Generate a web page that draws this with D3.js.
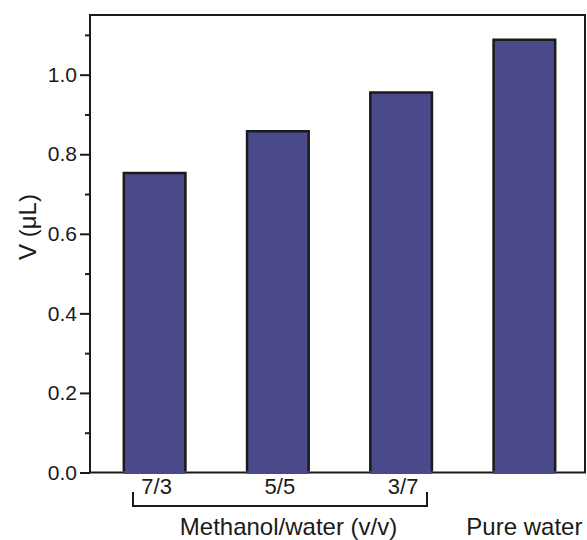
<!DOCTYPE html>
<html>
<head>
<meta charset="utf-8">
<script src="https://cdn.jsdelivr.net/npm/d3@7"></script>
<style>
  body { margin: 0; background: #fff; }
  text { font-family: "Liberation Sans", Arial, sans-serif; fill: #1a1a1a; }
</style>
</head>
<body>
<svg id="chart"></svg>
<script>
// data
var categories = ["7/3", "5/5", "3/7", "Pure water"];
var values = [0.753, 0.858, 0.955, 1.088];
var yTicks = [0.0, 0.2, 0.4, 0.6, 0.8, 1.0];
var yMinorTicks = [0.1, 0.3, 0.5, 0.7, 0.9, 1.1];
var groupLabel = "Methanol/water (v/v)";

var svgWidth = 587, svgHeight = 540;
var plotLeft = 90, plotRight = 585, plotTop = 15, plotBottom = 472.5;

var svg = d3.select("#chart")
  .attr("width", svgWidth)
  .attr("height", svgHeight);

var x = d3.scaleBand()
  .domain(categories)
  .range([93, 586])
  .paddingInner(0.5)
  .paddingOuter(0.25);

var y = d3.scaleLinear()
  .domain([0, 1.15])
  .range([plotBottom, plotTop]);

// frame
svg.append("rect")
  .attr("x", plotLeft).attr("y", plotTop)
  .attr("width", plotRight - plotLeft).attr("height", plotBottom - plotTop)
  .attr("fill", "none")
  .attr("stroke", "#1a1a1a")
  .attr("stroke-width", 2);

// y axis, major + minor ticks
var yAxis = svg.append("g")
  .attr("transform", "translate(" + plotLeft + ",0)")
  .call(d3.axisLeft(y).tickValues(yTicks).tickSize(10).tickPadding(3)
    .tickFormat(d3.format(".1f")));
yAxis.select(".domain").remove();
yAxis.selectAll("line").attr("stroke", "#1a1a1a").attr("stroke-width", 2);
yAxis.selectAll("text")
  .style("font-size", "21px")
  .style("font-family", "'Liberation Sans', Arial, sans-serif")
  .attr("fill", "#1a1a1a");

var minor = svg.append("g")
  .attr("transform", "translate(" + plotLeft + ",0)")
  .call(d3.axisLeft(y).tickValues(yMinorTicks).tickSize(5).tickFormat(""));
minor.select(".domain").remove();
minor.selectAll("line").attr("stroke", "#1a1a1a").attr("stroke-width", 2);

// bars: fill reaches over the axis line, outline only on top and sides
var bars = svg.selectAll(".bar")
  .data(values)
  .enter()
  .append("g")
  .attr("class", "bar");

bars.append("rect")
  .attr("x", function(d, i) { return x(categories[i]); })
  .attr("y", function(d) { return y(d); })
  .attr("width", x.bandwidth())
  .attr("height", function(d) { return y(0) - y(d) + 1.5; })
  .attr("fill", "#4a4a8a");

bars.append("path")
  .attr("d", function(d, i) {
    var x0 = x(categories[i]), x1 = x0 + x.bandwidth();
    return "M" + x0 + "," + (y(0) - 1) + "V" + y(d) + "H" + x1 + "V" + (y(0) - 1);
  })
  .attr("fill", "none")
  .attr("stroke", "#1a1a1a")
  .attr("stroke-width", 2.5);

// category labels
svg.selectAll(".cat")
  .data(categories.slice(0, 3))
  .enter()
  .append("text")
  .attr("class", "cat")
  .attr("x", function(d) { return x(d) + x.bandwidth() / 2 + 2; })
  .attr("y", 494)
  .attr("text-anchor", "middle")
  .style("font-size", "22px")
  .text(function(d) { return d; });

// bracket under the mixtures
var bx0 = 133, bx1 = 427;
svg.append("path")
  .attr("d", "M" + bx0 + ",492V506H" + bx1 + "V492")
  .attr("fill", "none")
  .attr("stroke", "#1a1a1a")
  .attr("stroke-width", 2);

svg.append("text")
  .attr("x", 288.5)
  .attr("y", 535)
  .attr("text-anchor", "middle")
  .style("font-size", "24px")
  .text(groupLabel);

svg.append("text")
  .attr("x", x(categories[3]) + x.bandwidth() / 2)
  .attr("y", 535)
  .attr("text-anchor", "middle")
  .style("font-size", "24px")
  .text(categories[3]);

// y title
svg.append("text")
  .attr("transform", "translate(36,227) rotate(-90)")
  .attr("text-anchor", "middle")
  .style("font-size", "24px")
  .text("V (μL)");
</script>
</body>
</html>
